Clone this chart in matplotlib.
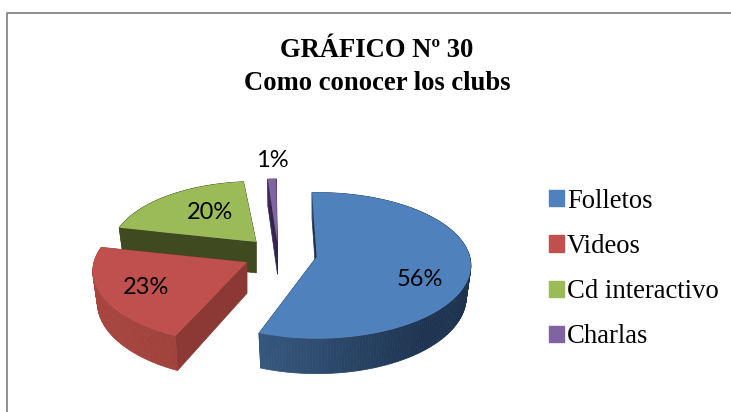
import numpy as np
import matplotlib
matplotlib.use('Agg')
from matplotlib import pyplot as plt
from matplotlib.patches import Patch

categories = ['Folletos', 'Videos', 'Cd interactivo', 'Charlas']
values = [56, 23, 20, 1]
pct_labels = ['56%', '23%', '20%', '1%']

colors = ['#4F81BD', '#C0504D', '#9BBB59', '#8064A2']
wall_from = ['#37597F', '#A8453F', '#3F4A20', '#3A2A55']
wall_to = ['#1D3350', '#8A3733', '#3F4A20', '#3A2A55']
radial_colors = ['#1D3350', '#8C3935', '#3F4A20', '#33254D']
explode = [0.25, 0.24, 0.225, 0.15]

# pixel layout
CX, CY = 279, 254
RX, RY = 153, 72
K = 0.12
DEPTH = 31
START = -2
slice_scale = [1.0, 1.0, 0.94, 1.0]
start_shift = [0, 5, 0, 1.5]
end_shift = [0, 0, 0, 1.5]
label_pos = [(420, 280), (146, 288), (210, 212), (272, 160)]
draw_order = [2, 3, 0, 1]


def project(theta, apex, scale=1.0, bottom=False):
    # theta in degrees, clockwise from the top of the pie
    t = np.radians(theta)
    u, v = np.sin(t), np.cos(t)
    s = scale / (1 + K * v)
    x, y = RX * u * s, -RY * v * s
    if bottom:
        return apex[0] + x * 0.97, apex[1] + DEPTH + y * 1.05
    return apex[0] + x, apex[1] + y


def mix(c1, c2, f):
    a = np.array(matplotlib.colors.to_rgb(c1))
    b = np.array(matplotlib.colors.to_rgb(c2))
    return tuple(a + (b - a) * f)


def draw_slice(ax, i, t0, t1):
    mid = np.radians((t0 + t1) / 2)
    sc = slice_scale[i]
    apex = (CX + explode[i] * RX * np.sin(mid), CY - explode[i] * RY * np.cos(mid))
    base = (apex[0], apex[1] + DEPTH)

    t0 = t0 + start_shift[i]
    t1 = t1 + end_shift[i]

    # inner walls first
    for t in (t0, t1):
        top = project(t, apex, sc)
        bot = project(t, apex, sc, bottom=True)
        ax.fill([apex[0], top[0], bot[0], base[0]], [apex[1], top[1], bot[1], base[1]],
                color=radial_colors[i], lw=0.5)

    # outer wall as small shaded quads
    steps = np.linspace(t0, t1, int(max(t1 - t0, 4)) + 1)
    for a, b in zip(steps[:-1], steps[1:]):
        p1, p2 = project(a, apex, sc), project(b, apex, sc)
        p3, p4 = project(b, apex, sc, True), project(a, apex, sc, True)
        # shade runs left to right over the front of the pie
        f = np.clip((p1[0] - (apex[0] - RX)) / (2 * RX), 0, 1) if i != 0 else \
            np.clip((p1[0] - project(t1, apex, sc)[0]) / (RX * 1.1), 0, 1)
        ax.fill([p1[0], p2[0], p3[0], p4[0]], [p1[1], p2[1], p3[1], p4[1]],
                color=mix(wall_from[i], wall_to[i], f), lw=0.5)

    # top face
    arc = np.linspace(t0, t1, 200)
    xs, ys = project(arc, apex, sc)
    ax.fill(np.r_[apex[0], xs], np.r_[apex[1], ys], color=colors[i], lw=0)


fig = plt.figure(figsize=(7.31, 4.12), dpi=100)
ax = fig.add_axes([0, 0, 1, 1])
ax.set_xlim(0, 731)
ax.set_ylim(412, 0)
ax.axis('off')

# chart frame is cropped on the right and at the bottom
ax.plot([6.5, 6.5, 731], [412, 12.5, 12.5], color='#868686', lw=1.3)

edges = START + np.r_[0, np.cumsum(values)] * 3.6
for i in draw_order:
    draw_slice(ax, i, edges[i], edges[i + 1])

for txt, pos in zip(pct_labels, label_pos):
    ax.text(pos[0], pos[1], txt, ha='center', va='center', fontsize=17,
            family='Lato', color='black')

ax.text(377, 50, 'GRÁFICO Nº 30', ha='center', va='center', fontsize=19.2,
        family='Liberation Serif', weight='bold')
ax.text(377, 83, 'Como conocer los clubs', ha='center', va='center', fontsize=19.2,
        family='Liberation Serif', weight='bold')

handles = [Patch(color=c) for c in colors]
ax.legend(handles, categories, loc='center left', bbox_to_anchor=(0.751, 0.347), frameon=False,
          prop={'family': 'Liberation Serif', 'size': 19.2}, handlelength=0.55, handleheight=0.55,
          handletextpad=0.12, labelspacing=0.76, borderpad=0, borderaxespad=0)

fig.savefig('out.png', dpi=100)
